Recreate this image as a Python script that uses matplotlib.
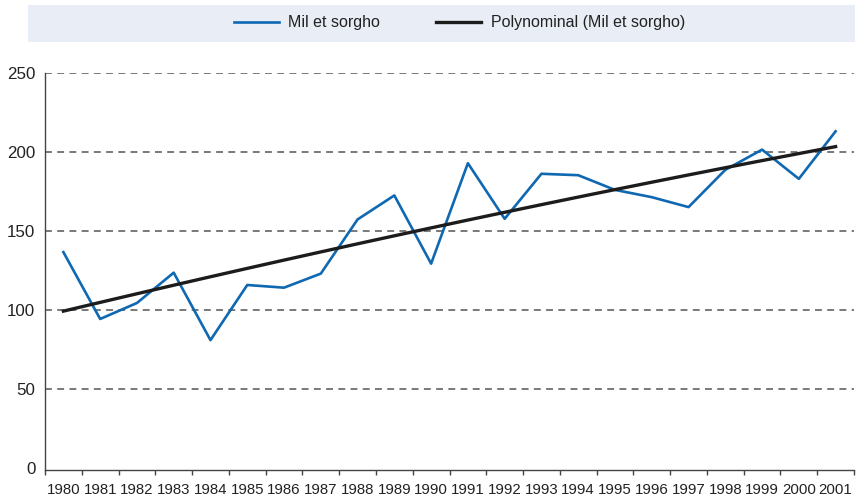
import numpy as np
import matplotlib
matplotlib.use("Agg")
import matplotlib.pyplot as plt
from matplotlib.patches import Rectangle

years = [str(y) for y in range(1980, 2002)]
mil_sorgho = [136.6, 94.3, 104.4, 123.6, 80.9, 115.8, 114.1, 123.0, 157.3, 172.5,
              129.3, 192.9, 157.7, 186.2, 185.3, 176.0, 171.4, 165.1, 188.7, 201.5,
              183.0, 213.1]
y_ticks = [0, 50, 100, 150, 200, 250]

# tendance polynomiale (ordre 2), comme dans le tableur
x = np.arange(len(years))
coef = np.polyfit(x, mil_sorgho, 2)
trend = np.polyval(coef, x)

blue = "#0f68b2"
dark = "#1c1c1c"
grid_c = "#555555"

plt.rcParams['font.family'] = ['Liberation Sans', 'DejaVu Sans']

fig = plt.figure(figsize=(8.65, 5.01), dpi=100)
ax = fig.add_axes([45/865, 1 - 469.5/501, (854-45)/865, (469.5-73)/501])

l1, = ax.plot(x, mil_sorgho, color=blue, lw=1.9, label="Mil et sorgho", zorder=3)
l2, = ax.plot(x, trend, color=dark, lw=2.4, label="Polynominal (Mil et sorgho)", zorder=4)

ax.set_xlim(-0.5, len(years) - 0.5)
ax.set_ylim(-1, 250)
ax.set_yticks(y_ticks)
ax.set_yticklabels([str(v) for v in y_ticks], fontsize=12.2, color="#222222")
for v in y_ticks[1:]:
    ax.axhline(v, color=grid_c, lw=1.1, ls=(0, (4.5, 3.5)), zorder=1)

ax.set_xticks(x)
ax.set_xticklabels(years, fontsize=10.8, color="#222222")
ax.set_xticks(np.arange(len(years) + 1) - 0.5, minor=True)
ax.tick_params(axis='x', which='major', length=0, pad=9.5)
ax.tick_params(axis='x', which='minor', length=3.5, width=1, color="#444444", direction='out')
ax.tick_params(axis='y', length=0, pad=7)

for s in ["top", "right"]:
    ax.spines[s].set_visible(False)
for s in ["left", "bottom"]:
    ax.spines[s].set_color("#444444")
    ax.spines[s].set_linewidth(1.0)

# bandeau de la légende
fig.add_artist(Rectangle((28/865, 1 - 42/501), (855-28)/865, 37/501,
                         transform=fig.transFigure, facecolor="#e9edf5",
                         edgecolor="none", zorder=0))
leg = fig.legend(handles=[l1, l2], loc="center", ncol=2,
                 bbox_to_anchor=(459.5/865, 1 - 23/501), frameon=False,
                 prop={'size': 11.5},
                 handlelength=2.8, handletextpad=0.6, columnspacing=3.5)
for t in leg.get_texts():
    t.set_color("#222222")

fig.savefig("out.png", dpi=100)
